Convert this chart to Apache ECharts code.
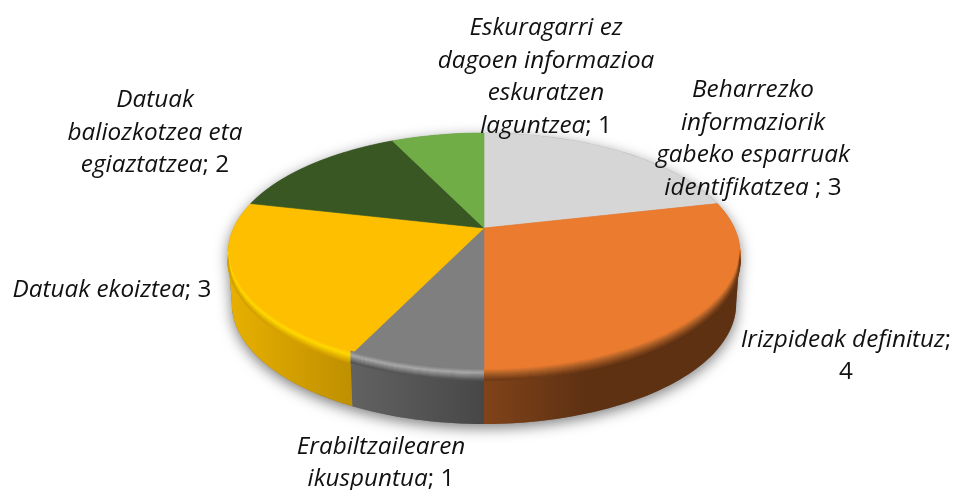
<!DOCTYPE html>
<html>
<head>
<meta charset="utf-8">
<style>
html, body { margin: 0; padding: 0; background: #fff; }
#chart { width: 954px; height: 490px; }
</style>
<script src="https://cdn.jsdelivr.net/npm/echarts@6/dist/echarts.min.js"></script>
</head>
<body>
<div id="chart"></div>
<script>
// clockwise from 12 o'clock
const names = [
    'Beharrezko\ninformaziorik\ngabeko esparruak\nidentifikatzea',
    'Irizpideak definituz',
    'Erabiltzailearen\nikuspuntua',
    'Datuak ekoiztea',
    'Datuak\nbaliozkotzea eta\negiaztatzea',
    'Eskuragarri ez\ndagoen informazioa\neskuratzen\nlaguntzea'
];
const values = [3, 4, 1, 3, 2, 1];
const separators = [' ; ', ';\n', '; ', '; ', '; ', '; '];

const topColors = ['#d6d6d6', '#ea7b2f', '#7f7f7f', '#fdbf00', '#385723', '#70ad47'];
const wallLeft = ['#9a9a9a', '#804319', '#626262', '#e8b000', '#2a4019', '#527f33'];
const wallRight = ['#8a8a8a', '#5e3113', '#474747', '#bf9000', '#2a4019', '#527f33'];
const wallStops = [1, 0.4, 1, 1, 1, 1];
const rimColors = ['#d6d6d6', '#b5652a', '#a8a8a8', '#ffd800', '#385723', '#70ad47'];
const labelPos = [[753, 139], [846, 356], [381, 463], [112, 290], [155, 133], [546, 77]];

// projected disc: apex of the slices sits above the middle of the ellipse
const cx = 484, cy = 228, radX = 250.4, radY = 114.8, persp = 0.208;
const depth = 51, bottomScale = 0.985;
// angles where the rim is widest, the wall is only visible between them
const sideA = Math.acos(-persp) * 180 / Math.PI, sideB = 360 - sideA;

function project(deg) {
    let a = deg * Math.PI / 180;
    let sx = Math.sin(a), sy = Math.cos(a);
    let d = 1 + persp * sy;
    return [cx + radX * sx / d, cy - radY * sy / d];
}
function bottom(p) {
    return [cx + (p[0] - cx) * bottomScale, p[1] + depth];
}
function arc(from, to) {
    let pts = [];
    let n = Math.max(2, Math.ceil(Math.abs(to - from) / 1.5));
    for (let i = 0; i <= n; i++) {
        pts.push(project(from + (to - from) * i / n));
    }
    return pts;
}

let acc = 0;
const total = values.reduce((s, v) => s + v, 0);
const sliceData = values.map(v => {
    let start = acc / total * 360;
    acc += v;
    return [start, acc / total * 360, v];
});

function layer(data, draw) {
    return {
        type: 'custom',
        coordinateSystem: 'none',
        silent: true,
        animation: false,
        data: data,
        renderItem: (params, api) => draw(params.dataIndex, api.value(0), api.value(1))
    };
}

function drawShadow() {
    let outline = arc(sideA, sideB).map(bottom).concat(arc(sideB, sideA + 360));
    return {
        type: 'polygon',
        shape: { points: outline },
        style: { fill: '#777', shadowBlur: 14, shadowColor: 'rgba(0,0,0,0.5)', shadowOffsetY: 4 }
    };
}
function drawWall(i, a0, a1) {
    let from = Math.max(a0, sideA), to = Math.min(a1, sideB);
    if (to <= from) return { type: 'group', children: [] };
    let top = arc(from, to);
    let low = top.map(bottom).reverse();
    let xs = top.map(p => p[0]);
    // orange runs left to right from the middle, so its stop is measured from the seam
    let stops = i === 1
        ? [{ offset: 0, color: wallLeft[i] }, { offset: wallStops[i], color: wallRight[i] }, { offset: 1, color: wallRight[i] }]
        : [{ offset: 0, color: wallLeft[i] }, { offset: 1, color: wallRight[i] }];
    return {
        type: 'polygon',
        shape: { points: top.concat(low) },
        style: {
            fill: new echarts.graphic.LinearGradient(Math.min(...xs), 0, Math.max(...xs), 0, stops, true)
        }
    };
}
function drawTop(i, a0, a1) {
    return {
        type: 'polygon',
        shape: { points: [[cx, cy]].concat(arc(a0, a1)) },
        style: { fill: topColors[i], stroke: topColors[i], lineWidth: 0.6 }
    };
}
// soft rim: stacked lines going from the top colour through the rim colour to the wall
function drawBevel(i, a0, a1) {
    let from = Math.max(a0, sideA), to = Math.min(a1, sideB);
    if (to <= from) return { type: 'group', children: [] };
    let pts = arc(from, to);
    let wallMid = echarts.color.lerp(0.5, [wallLeft[i], wallRight[i]]);
    let children = [];
    for (let off = -4; off <= 7; off++) {
        let c = off <= 0
            ? echarts.color.lerp((off + 4) / 4, [topColors[i], rimColors[i]])
            : echarts.color.lerp(off / 7, [rimColors[i], wallMid]);
        children.push({
            type: 'polyline',
            shape: { points: pts.map(p => [p[0], p[1] + off]) },
            style: { stroke: c, lineWidth: 1.5, fill: null }
        });
    }
    return { type: 'group', children: children };
}
function drawLabel(i) {
    let parts = names[i].split('\n').map(s => '{i|' + s + '}');
    let tail = separators[i].split('\n');
    let text = parts.join('\n') + '{n|' + tail[0] + (tail.length > 1 ? '}\n{n|' : '') + values[i] + '}';
    const font = { fontFamily: 'Open Sans', fontSize: 24.3, lineHeight: 32.5, fill: '#111' };
    return {
        type: 'text',
        x: labelPos[i][0],
        y: labelPos[i][1],
        style: {
            text: text,
            align: 'center',
            verticalAlign: 'middle',
            rich: {
                i: Object.assign({ fontStyle: 'italic' }, font),
                n: Object.assign({}, font)
            }
        }
    };
}

const chart = echarts.init(document.getElementById('chart'));
chart.setOption({
    backgroundColor: '#fff',
    animation: false,
    series: [
        layer([[0, 360]], drawShadow),
        layer(sliceData, drawWall),
        layer(sliceData, drawTop),
        layer(sliceData, drawBevel),
        layer(sliceData, drawLabel)
    ]
});
</script>
</body>
</html>
